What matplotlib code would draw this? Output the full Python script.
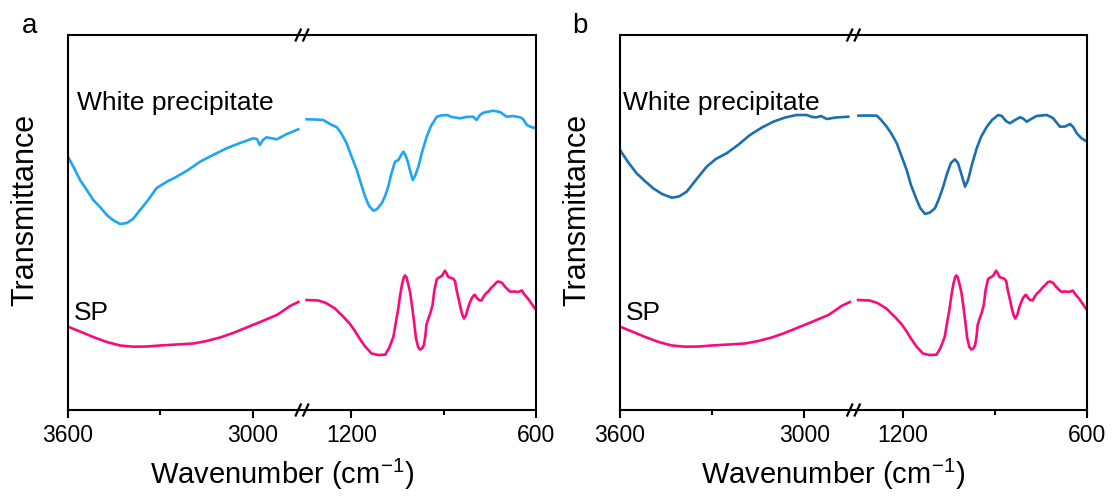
import numpy as np
import matplotlib
matplotlib.use("Agg")
import matplotlib.pyplot as plt

plt.rcParams['font.family'] = ['Liberation Sans', 'DejaVu Sans']
plt.rcParams['mathtext.fontset'] = 'custom'
plt.rcParams['mathtext.rm'] = 'Liberation Sans'
plt.rcParams['mathtext.default'] = 'regular'

# ---- data (wavenumber cm-1, transmittance a.u.) ----
wp_a_hi_x = [3600, 3577, 3561, 3539, 3518, 3496, 3474, 3454, 3431, 3409, 3389, 3366, 3344, 3312, 3279, 3247,
             3210, 3171, 3129, 3085, 3041, 2998, 2986, 2977, 2967, 2955, 2922, 2889, 2852]
wp_a_hi_y = [253.3, 240, 230, 220, 210, 203, 195, 190, 186, 187, 191, 200, 208.3, 222, 228.3, 233.3,
             240, 248.3, 255, 261.7, 267, 271.7, 271, 265, 270, 272.7, 270.7, 276, 280.7]
wp_a_lo_x = [1345, 1318, 1291, 1269, 1247, 1233, 1215, 1201, 1182, 1168, 1155, 1142, 1128, 1116, 1101, 1090,
             1080, 1071, 1058, 1047, 1038, 1031, 1024, 1016, 1007, 1000, 993, 982, 970, 955, 941, 922, 908,
             890, 873, 847, 827, 804, 793, 782, 771, 739, 717, 695, 675, 652, 642, 630, 616, 600]
wp_a_lo_y = [290.7, 290.5, 290, 286, 282.7, 277, 266.7, 255, 240, 226, 213.3, 204, 199.3, 201, 206.7, 214,
             223.3, 235, 248.3, 250, 255, 258.3, 255, 248, 237, 230, 234, 243.3, 258, 273.3, 284, 293.3, 294.5,
             295, 293, 291.7, 293, 293.3, 290, 295, 297.3, 299.3, 298, 293.3, 294, 292.7, 291, 285, 283, 281.7]

sp_hi_x = [3600, 3561, 3518, 3474, 3431, 3389, 3344, 3301, 3247, 3193, 3150, 3106, 3064, 3020, 2976, 2922,
           2902, 2879, 2852]
sp_hi_y = [83.3, 78.5, 73, 68, 64.5, 63.3, 63.5, 64.5, 65.5, 66.5, 69, 72.5, 77, 82.5, 88, 95,
           99, 104, 108]
sp_lo_x = [1345, 1307, 1282, 1253, 1226, 1204, 1188, 1172, 1155, 1134, 1113, 1090, 1077, 1063, 1055, 1048,
           1042, 1035, 1029, 1025, 1021, 1016, 1009, 1003, 996, 990, 983, 977, 970, 964, 959, 956, 950, 943,
           936, 930, 922, 915, 906, 900, 896, 891, 885, 876, 870, 863, 858, 852, 845, 839, 834, 827, 821,
           814, 808, 801, 798, 792, 785, 777, 769, 761, 755, 746, 736, 727, 720, 710, 700, 690, 684, 668,
           658, 646, 639, 625, 616, 600]
sp_lo_y = [110, 109.5, 107, 101.5, 93.3, 86, 79, 71, 63.5, 56.5, 55, 55.3, 62, 73.3, 88, 100,
           113.3, 126, 133, 134.5, 133, 127, 118, 105, 88, 72, 63, 60.5, 61.5, 65, 75, 85, 91, 97,
           105, 120, 131, 132.5, 134, 137, 139.3, 137, 133, 132, 131.5, 129, 120, 112, 102, 95, 91.5, 95, 102,
           108, 112, 115, 115, 112, 110, 109.5, 114, 117, 118.5, 122, 125, 128, 128.5, 127, 123, 120, 118.3, 118.5,
           118, 119.5, 116, 111, 107, 100]

wp_b_hi_x = [3600, 3574, 3546, 3519, 3492, 3463, 3432, 3408, 3383, 3353, 3318, 3288, 3253, 3216, 3177, 3138,
             3101, 3063, 3025, 2992, 2975, 2960, 2946, 2927, 2897, 2857]
wp_b_hi_y = [260, 248, 236.7, 229, 221.7, 216, 212.3, 213.5, 218.3, 230, 243.3, 251, 256.7, 265, 275, 282.5,
             288.3, 292.5, 295, 295, 293, 292.7, 294, 291, 292.5, 293.3]
wp_b_lo_x = [1344, 1316, 1284, 1270, 1252, 1238, 1219, 1205, 1187, 1173, 1154, 1143, 1127, 1111, 1095, 1082,
             1068, 1056, 1043, 1030, 1020, 1010, 997, 987, 974, 959, 945, 926, 909, 889, 877, 864, 851, 834,
             818, 808, 796, 782, 764, 731, 711, 688, 671, 655, 645, 633, 619, 600]
wp_b_lo_y = [294.3, 294.5, 294.3, 290, 283.3, 277, 266.7, 255, 240, 225, 210, 202, 196, 197.5, 201.7, 211,
             223.3, 236, 247, 250.7, 247, 237, 223.3, 230, 246, 261.7, 273, 283.3, 290, 295, 294, 289, 286.7, 290,
             292.7, 291.5, 288.3, 291, 294, 295, 292, 283.3, 283.5, 286, 283, 276.7, 272, 268.3]

major_ticks = [3600, 3000, 1200, 600]
minor_ticks = [3300, 900]
tick_labels = ['3600', '3000', '1200', '600']

BREAK_HI, BREAK_LO, X_MAX, X_MIN = 2840, 1360, 3600, 600


def to_pos(wn):
    wn = np.asarray(wn, float)
    return np.where(wn >= BREAK_HI, X_MAX - wn, (X_MAX - BREAK_HI) + (BREAK_LO - wn))


fig = plt.figure(figsize=(11.14, 4.97), dpi=100)
ax_a = fig.add_axes([68 / 1114, 1 - 410 / 497, 468 / 1114, 375 / 497])
ax_b = fig.add_axes([620 / 1114, 1 - 410 / 497, 467 / 1114, 375 / 497])

c_a = '#1ea5f3'
c_b = '#1a6fae'
c_sp = '#fb0a7c'

panels = [
    (ax_a, c_a, (wp_a_hi_x, wp_a_hi_y, wp_a_lo_x, wp_a_lo_y), 0.019, 0.013, 'a', 22),
    (ax_b, c_b, (wp_b_hi_x, wp_b_hi_y, wp_b_lo_x, wp_b_lo_y), 0.006, 0.013, 'b', 572),
]

total = (X_MAX - BREAK_HI) + (BREAK_LO - X_MIN)
for ax, col, (hx, hy, lx, ly), tx_wp, tx_sp, letter, lx_pix in panels:
    ax.plot(to_pos(hx), hy, color=col, lw=1.9, solid_joinstyle='round')
    ax.plot(to_pos(lx), ly, color=col, lw=1.9, solid_joinstyle='round')
    ax.plot(to_pos(sp_hi_x), sp_hi_y, color=c_sp, lw=1.9, solid_joinstyle='round')
    ax.plot(to_pos(sp_lo_x), sp_lo_y, color=c_sp, lw=1.9, solid_joinstyle='round')
    ax.set_xlim(0, total)
    ax.set_ylim(0, 375)
    ax.set_xticks(to_pos(major_ticks))
    ax.set_xticklabels(tick_labels, fontsize=16.5)
    ax.set_xticks(to_pos(minor_ticks), minor=True)
    ax.tick_params(axis='x', which='major', direction='out', length=6, width=1.5, pad=4)
    ax.tick_params(axis='x', which='minor', direction='out', length=3.5, width=1.5)
    ax.tick_params(axis='y', left=False, labelleft=False)
    for s in ax.spines.values():
        s.set_linewidth(1.5)
    ax.set_xlabel('Wavenumber (cm$^{-1}$)', fontsize=21)
    ax.xaxis.set_label_coords(0.457, -0.125)
    ax.set_ylabel('Transmittance', fontsize=22)
    ax.yaxis.set_label_coords(-0.06, 0.533)
    ax.text(tx_wp, 0.8, 'White precipitate', transform=ax.transAxes, fontsize=19, va='baseline', ha='left')
    ax.text(tx_sp, 0.24, 'SP', transform=ax.transAxes, fontsize=19, va='baseline', ha='left')
    fig.text(lx_pix / 1114, 1 - 33 / 497, letter, fontsize=20, va='baseline', ha='left')
    # break marks
    bx = (X_MAX - BREAK_HI) / total
    W = ax.get_window_extent().width
    H = ax.get_window_extent().height
    dx = 3.0 / W
    dy = 6.5 / H
    gap = 7.5 / W
    for yc in (0.0, 1.0):
        for off in (-gap / 2, gap / 2):
            ax.plot([bx + off - dx, bx + off + dx], [yc - dy, yc + dy], color='black', lw=1.6,
                    transform=ax.transAxes, clip_on=False, solid_capstyle='butt')

fig.savefig('out.png', dpi=100)
